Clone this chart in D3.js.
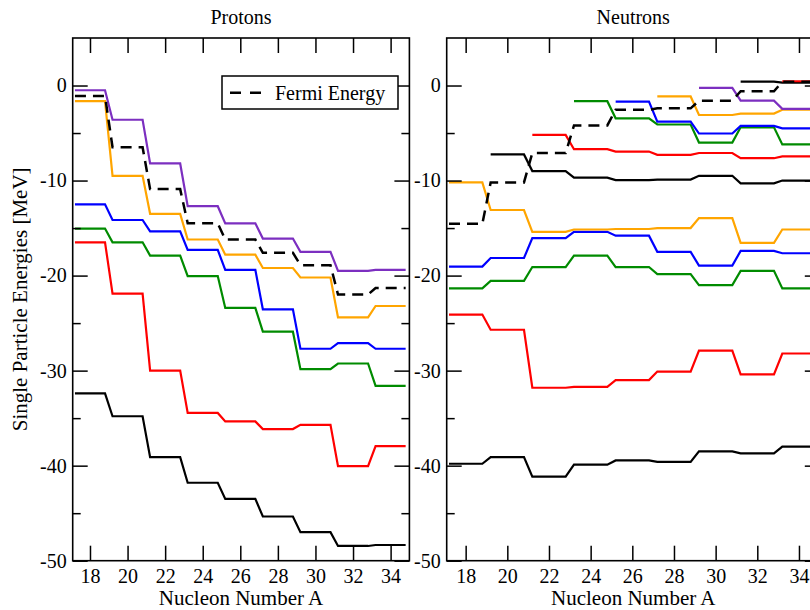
<!DOCTYPE html>
<html>
<head>
<meta charset="utf-8">
<script src="https://cdn.jsdelivr.net/npm/d3@7"></script>
<style>
  html, body { margin: 0; padding: 0; background: #fff; }
  svg { display: block; }
  svg text { font-family: "Liberation Serif", "Times New Roman", serif !important; }
</style>
</head>
<body>
<svg id="chart" width="810" height="610"></svg>
<script>
// ---------------- data ----------------
const nucleonA = [18, 20, 22, 24, 26, 28, 30, 32, 34];
const xTicks = [18, 20, 22, 24, 26, 28, 30, 32, 34];
const yTicks = [-50, -40, -30, -20, -10, 0];
const yMinorTicks = [-45, -35, -25, -15, -5];

// Protons (MeV), one value per nucleus in nucleonA
const protonBlack  = [-32.4, -34.8, -39.1, -41.8, -43.5, -45.35, -47.0, -48.45, -48.35];
const protonRed    = [-16.5, -21.9, -30.0, -34.45, -35.35, -36.15, -35.7, -40.05, -37.95];
const protonGreen  = [-15.05, -16.5, -17.9, -20.05, -23.4, -25.9, -29.85, -29.25, -31.6];
const protonBlue   = [-12.5, -14.15, -15.35, -17.3, -19.4, -23.55, -27.7, -27.1, -27.7];
const protonOrange = [-1.65, -9.5, -13.5, -16.2, -17.8, -19.2, -20.2, -24.4, -23.2];
const protonPurple = [-0.5, -3.6, -8.2, -12.7, -14.5, -16.1, -17.5, -19.5, -19.4];
const protonFermi  = [-1.1, -6.5, -10.9, -14.5, -16.2, -17.6, -18.9, -22.0, -21.3];

// Neutrons (MeV); null = level not present
const neutronBlack1  = [-39.8, -39.1, -41.15, -39.9, -39.45, -39.6, -38.5, -38.7, -38.0];
const neutronRed1    = [-24.1, -25.7, -31.8, -31.7, -31.0, -30.1, -27.9, -30.4, -28.2];
const neutronGreen1  = [-21.35, -20.55, -19.1, -17.9, -19.1, -19.85, -21.0, -19.5, -21.35];
const neutronBlue1   = [-19.05, -18.15, -16.05, -15.4, -15.8, -17.5, -18.95, -17.4, -17.65];
const neutronOrange1 = [-10.2, -13.1, -15.4, -15.15, -15.1, -15.0, -13.95, -16.55, -15.15];
const neutronBlack2  = [null, -7.25, -9.0, -9.7, -9.95, -9.9, -9.5, -10.3, -10.0];
const neutronRed2    = [null, null, -5.2, -6.7, -6.95, -7.3, -7.1, -7.65, -7.45];
const neutronGreen2  = [null, null, null, -1.65, -3.45, -4.1, -6.0, -4.4, -6.2];
const neutronBlue2   = [null, null, null, null, -1.7, -3.8, -5.05, -4.25, -4.5];
const neutronOrange2 = [null, null, null, null, null, -1.15, -3.1, -2.95, -2.55];
const neutronPurple  = [null, null, null, null, null, null, -0.25, -1.6, -2.45];
const neutronBlack3  = [null, null, null, null, null, null, null, 0.4, 0.3];
const neutronRed3    = [null, null, null, null, null, null, null, null, 0.45];
const neutronFermi   = [-14.55, -10.2, -7.1, -4.2, -2.55, -2.4, -1.6, -0.6, 0.4];

const colors = { black: "#000000", red: "#ff0000", green: "#008b00", blue: "#0000ff", orange: "#ffa500", purple: "#7c2fc0" };

const protonSeries = [
  { v: protonBlack, c: colors.black }, { v: protonRed, c: colors.red }, { v: protonGreen, c: colors.green },
  { v: protonBlue, c: colors.blue }, { v: protonOrange, c: colors.orange }, { v: protonPurple, c: colors.purple },
  { v: protonFermi, c: colors.black, dashed: true }
];
const neutronSeries = [
  { v: neutronBlack1, c: colors.black }, { v: neutronRed1, c: colors.red }, { v: neutronGreen1, c: colors.green },
  { v: neutronBlue1, c: colors.blue }, { v: neutronOrange1, c: colors.orange },
  { v: neutronBlack2, c: colors.black }, { v: neutronRed2, c: colors.red }, { v: neutronGreen2, c: colors.green },
  { v: neutronBlue2, c: colors.blue }, { v: neutronOrange2, c: colors.orange }, { v: neutronPurple, c: colors.purple },
  { v: neutronBlack3, c: colors.black }, { v: neutronRed3, c: colors.red },
  { v: neutronFermi, c: colors.black, dashed: true }
];

// ---------------- layout ----------------
const svg = d3.select("#chart");
const plotTop = 38, plotBottom = 560.7;
const halfWidth = 0.8; // each level spans A +/- 0.8
const y = d3.scaleLinear().domain([-50, 5]).range([plotBottom, plotTop]);
const plainFormat = d => String(d);

const panels = [
  { title: "Protons", x0: 72.7, x1: 409.4, dmin: 17.08, series: protonSeries, legend: true },
  { title: "Neutrons", x0: 446.7, x1: 819.8, dmin: 17.09, series: neutronSeries, legend: false }
];

panels.forEach((p, pi) => {
  const x = d3.scaleLinear().domain([p.dmin, 35]).range([p.x0, p.x1]);
  const g = svg.append("g");
  const clipId = "clip" + pi;
  svg.append("clipPath").attr("id", clipId).append("rect")
    .attr("x", p.x0).attr("y", plotTop).attr("width", p.x1 - p.x0).attr("height", plotBottom - plotTop);

  // data lines
  const line = d3.line().x(d => x(d[0])).y(d => y(d[1]));
  const plot = g.append("g").attr("clip-path", `url(#${clipId})`);
  p.series.forEach(s => {
    const pts = [];
    nucleonA.forEach((a, i) => {
      if (s.v[i] === null) return;
      pts.push([a - halfWidth, s.v[i]], [a + halfWidth, s.v[i]]);
    });
    plot.append("path").attr("d", line(pts))
      .attr("fill", "none").attr("stroke", s.c)
      .attr("stroke-width", s.dashed ? 2.5 : 2.2)
      .attr("stroke-dasharray", s.dashed ? "11,7" : null);
  });

  // axes (inward ticks)
  const axB = g.append("g").attr("transform", `translate(0,${plotBottom})`)
    .call(d3.axisBottom(x).tickValues(xTicks).tickFormat(plainFormat).tickSizeInner(-15).tickSizeOuter(0).tickPadding(22));
  const axT = g.append("g").attr("transform", `translate(0,${plotTop})`)
    .call(d3.axisTop(x).tickValues(xTicks).tickSizeInner(-15).tickSizeOuter(0).tickFormat(""));
  const axL = g.append("g").attr("transform", `translate(${p.x0},0)`)
    .call(d3.axisLeft(y).tickValues(yTicks).tickFormat(plainFormat).tickSizeInner(-15).tickSizeOuter(0).tickPadding(6));
  const axLm = g.append("g").attr("transform", `translate(${p.x0},0)`)
    .call(d3.axisLeft(y).tickValues(yMinorTicks).tickSizeInner(-8).tickSizeOuter(0).tickFormat(""));
  const axR = g.append("g").attr("transform", `translate(${p.x1},0)`)
    .call(d3.axisRight(y).tickValues(yTicks).tickSizeInner(-15).tickSizeOuter(0).tickFormat(""));
  const axRm = g.append("g").attr("transform", `translate(${p.x1},0)`)
    .call(d3.axisRight(y).tickValues(yMinorTicks).tickSizeInner(-8).tickSizeOuter(0).tickFormat(""));
  [axB, axT, axL, axLm, axR, axRm].forEach(a => {
    a.attr("font-family", null);
    a.select(".domain").remove();
    a.selectAll("line").attr("stroke", "#000").attr("stroke-width", 1.5);
    a.selectAll("text").attr("font-size", 20).attr("fill", "#000");
  });
  axB.selectAll("text").attr("dy", null).attr("y", 22);

  // frame
  g.append("rect").attr("x", p.x0).attr("y", plotTop).attr("width", p.x1 - p.x0).attr("height", plotBottom - plotTop)
    .attr("fill", "none").attr("stroke", "#000").attr("stroke-width", 1.6);

  // title
  g.append("text").attr("x", (p.x0 + p.x1) / 2).attr("y", 24).attr("text-anchor", "middle")
    .attr("font-size", 20).text(p.title);
  // x label
  g.append("text").attr("x", (p.x0 + p.x1) / 2).attr("y", 605).attr("text-anchor", "middle")
    .attr("font-size", 21).text("Nucleon Number A");

  if (p.legend) {
    const lg = g.append("g");
    lg.append("rect").attr("x", 222).attr("y", 76).attr("width", 176).attr("height", 33)
      .attr("fill", "#fff").attr("stroke", "#000").attr("stroke-width", 1.5);
    lg.append("line").attr("x1", 230).attr("x2", 261).attr("y1", 92.7).attr("y2", 92.7)
      .attr("stroke", "#000").attr("stroke-width", 2.5).attr("stroke-dasharray", "11,9");
    lg.append("text").attr("x", 275).attr("y", 100).attr("font-size", 20).text("Fermi Energy");
  }
});

// y label
svg.append("text").attr("transform", `translate(27,${(plotTop + plotBottom) / 2}) rotate(-90)`)
  .attr("text-anchor", "middle").attr("font-size", 21).text("Single Particle Energies [MeV]");
</script>
</body>
</html>
